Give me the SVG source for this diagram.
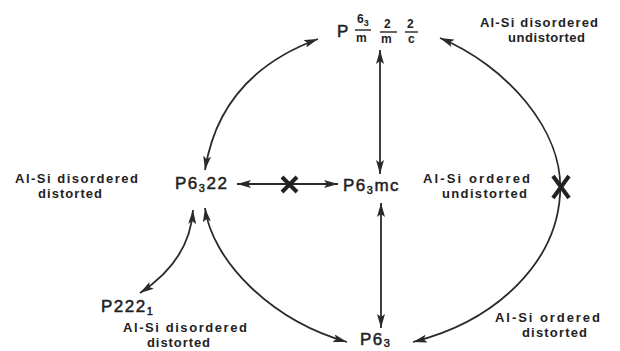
<svg xmlns="http://www.w3.org/2000/svg" width="620" height="351" viewBox="0 0 620 351">
<style>
.lbl{font-family:"Liberation Sans",Arial,sans-serif;font-weight:bold;font-size:13px;fill:#222}
.grp{font-family:"Liberation Sans",Arial,sans-serif;font-size:17px;fill:#222;stroke:#222;stroke-width:0.5;letter-spacing:1.5px}
.frac{font-family:"Liberation Sans",Arial,sans-serif;font-size:12px;fill:#222;font-weight:bold}
.fl{stroke:#222;stroke-width:1.4}
.con{fill:none;stroke:#2a2a2a;stroke-width:1.8}
.x{stroke:#222;stroke-width:4;stroke-linecap:butt;fill:none}
</style>
<defs>
<marker id="ah" viewBox="0 0 14 8" refX="14" refY="4" markerWidth="14" markerHeight="8" orient="auto-start-reverse" markerUnits="userSpaceOnUse">
<path d="M0,0 L14,4 L0,8 L3,4 z" fill="#2a2a2a"/>
</marker>
</defs>
<rect width="620" height="351" fill="#fff"/>

<g id="connectors">
<line class="con" x1="237" y1="184" x2="338" y2="184" marker-start="url(#ah)" marker-end="url(#ah)"/>
<path class="x" d="M282,177 L297,192 M297,177 L282,192"/>
<line class="con" x1="380" y1="50" x2="380" y2="174" marker-start="url(#ah)" marker-end="url(#ah)"/>
<line class="con" x1="381" y1="203" x2="381" y2="328" marker-start="url(#ah)" marker-end="url(#ah)"/>
<path class="con" d="M205,170 Q220,75 318,39" marker-start="url(#ah)" marker-end="url(#ah)"/>
<path class="con" d="M440,38 C505,65 565,130 560,195 C556,260 500,320 413,342" marker-start="url(#ah)" marker-end="url(#ah)"/>
<path class="x" d="M553,176 L569,198 M569,176 L553,198"/>
<path class="con" d="M205,208 C212,260 270,320 347,342" marker-start="url(#ah)" marker-end="url(#ah)"/>
<path class="con" d="M193,210 Q190,260 140,293" marker-start="url(#ah)" marker-end="url(#ah)"/>
</g>

<g id="node-p63mmc">
<text class="grp" x="337" y="37" font-size="19">P</text>
<text class="frac" x="357" y="23">6<tspan font-size="9" dy="3">3</tspan></text>
<line class="fl" x1="355" y1="30" x2="371" y2="30"/>
<text class="frac" x="356" y="42">m</text>
<text class="frac" x="384" y="28">2</text>
<line class="fl" x1="380" y1="32" x2="397" y2="32"/>
<text class="frac" x="381" y="43">m</text>
<text class="frac" x="407" y="28">2</text>
<line class="fl" x1="405" y1="32" x2="418" y2="32"/>
<text class="frac" x="408" y="43">c</text>
<text class="lbl" x="480" y="27" textLength="118" lengthAdjust="spacing">Al-Si  disordered</text>
<text class="lbl" x="508" y="42" textLength="77" lengthAdjust="spacing">undistorted</text>
</g>

<g id="node-p6322">
<text class="grp" x="175" y="189">P6<tspan font-size="11" dy="3">3</tspan><tspan dy="-3">22</tspan></text>
<text class="lbl" x="15" y="183" textLength="123" lengthAdjust="spacing">Al-Si  disordered</text>
<text class="lbl" x="38" y="198" textLength="64" lengthAdjust="spacing">distorted</text>
</g>

<g id="node-p63mc">
<text class="grp" x="343" y="191">P6<tspan font-size="11" dy="3">3</tspan><tspan dy="-3">mc</tspan></text>
<text class="lbl" x="423" y="183" textLength="107" lengthAdjust="spacing">Al-Si  ordered</text>
<text class="lbl" x="442" y="198" textLength="85" lengthAdjust="spacing">undistorted</text>
</g>

<g id="node-p2221">
<text class="grp" x="101" y="312">P222<tspan font-size="11" dy="3">1</tspan></text>
<text class="lbl" x="123" y="332" textLength="124" lengthAdjust="spacing">Al-Si  disordered</text>
<text class="lbl" x="147" y="347" textLength="63" lengthAdjust="spacing">distorted</text>
</g>

<g id="node-p63">
<text class="grp" x="360" y="345">P6<tspan font-size="11" dy="2">3</tspan></text>
<text class="lbl" x="495" y="322" textLength="105" lengthAdjust="spacing">Al-Si  ordered</text>
<text class="lbl" x="522" y="337" textLength="65" lengthAdjust="spacing">distorted</text>
</g>
</svg>
